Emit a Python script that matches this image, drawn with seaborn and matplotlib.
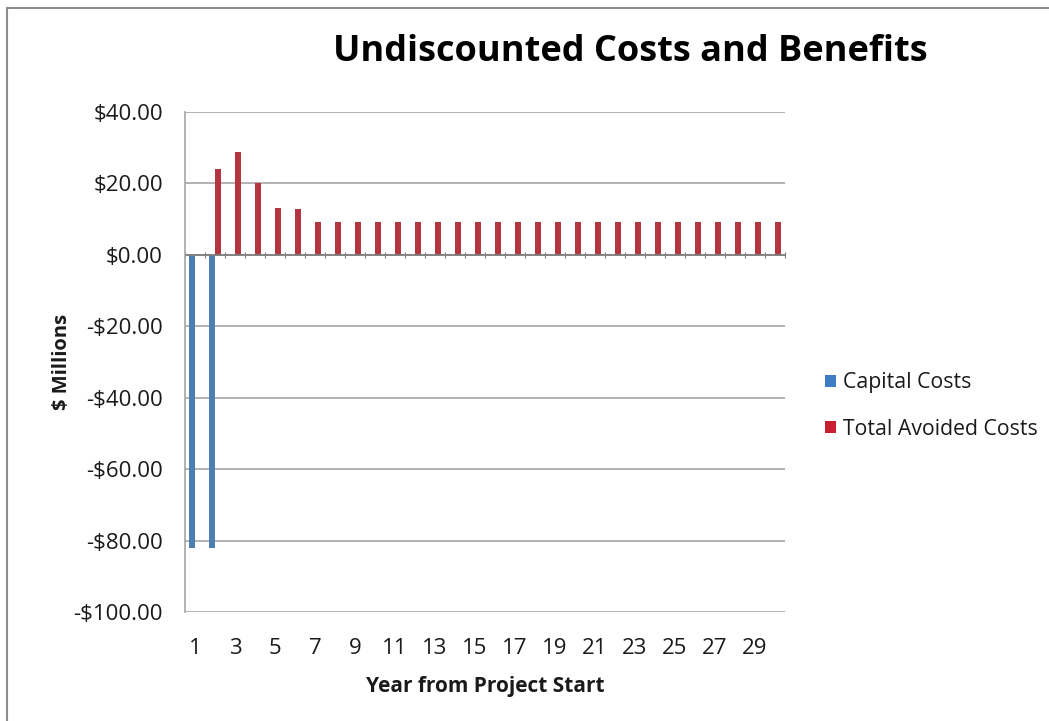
import matplotlib
matplotlib.use("Agg")
import matplotlib.pyplot as plt
import seaborn as sns
import pandas as pd
from matplotlib.patches import Patch
from matplotlib.lines import Line2D

years = list(range(1, 31))
capital_costs = [-82, -82] + [0] * 28
avoided_costs = [0, 24.1, 28.9, 20.2, 13.2, 12.9] + [9.2] * 24
series_names = ["Capital Costs", "Total Avoided Costs"]
colors = ["#3C7DC4", "#C8202F"]
yticks = [-100, -80, -60, -40, -20, 0, 20, 40]

df = pd.DataFrame({
    "Year": years * 2,
    "Value": capital_costs + avoided_costs,
    "Series": [series_names[0]] * 30 + [series_names[1]] * 30,
})

sns.set_style("white")
plt.rcParams["font.family"] = ["Open Sans", "DejaVu Sans"]
txt = "#1a1a1a"

fig = plt.figure(figsize=(10.49, 7.21), dpi=100)
ax = fig.add_axes([185 / 1049, 1 - 612 / 721, 600 / 1049, 500 / 721])

sns.barplot(data=df, x="Year", y="Value", hue="Series", palette=colors,
            width=0.6, gap=0.15, ax=ax, legend=False, linewidth=0)

ax.set_ylim(-100, 40)
ax.set_xlim(-0.5, 29.5)
ax.set_yticks(yticks)
ax.set_yticklabels([f"-${abs(v):.2f}" if v < 0 else f"${v:.2f}" for v in yticks],
                   fontsize=16, color=txt)
ax.set_xticks(range(0, 30, 2))
ax.set_xticklabels([str(y) for y in years[::2]], fontsize=16, color=txt)
ax.tick_params(axis="x", length=0, pad=19)
ax.tick_params(axis="y", length=4, width=1.2, color="#A6A6A6", pad=12)
ax.yaxis.grid(True, color="#A6A6A6", linewidth=1.2)
ax.set_axisbelow(True)
for s in ["top", "right", "bottom"]:
    ax.spines[s].set_visible(False)
ax.spines["left"].set_color("#A6A6A6")
ax.spines["left"].set_linewidth(1.2)

ax.axhline(0, color="#7F7F7F", linewidth=1.3, zorder=1)
sec = ax.secondary_xaxis(100 / 140)
sec.set_xticks([i - 0.5 for i in range(31)])
sec.set_xticklabels([])
sec.tick_params(direction="inout", length=5, color="#7F7F7F")
sec.spines["top"].set_visible(False)

ax.set_xlabel("Year from Project Start", fontsize=15, fontweight="bold",
              color=txt, labelpad=12)
ax.set_ylabel("$ Millions", fontsize=14.5, fontweight="bold", color=txt, labelpad=1)

fig.text(630 / 1049, 1 - 52 / 721, "Undiscounted Costs and Benefits",
         ha="center", va="center", fontsize=26, fontweight="bold", color="black")

handles = [Patch(facecolor=c, edgecolor="none") for c in colors]
leg = fig.legend(handles, series_names, loc="center left",
                 bbox_to_anchor=(806 / 1049, 1 - 406 / 721), frameon=False,
                 fontsize=15.3, handlelength=0.5, handleheight=0.5, handletextpad=0.35,
                 labelspacing=1.2)
for t in leg.get_texts():
    t.set_color(txt)

fig.lines.append(Line2D([7 / 1049, 7 / 1049], [0, 1 - 8 / 721],
                        transform=fig.transFigure, color="#8C8C8C", linewidth=1.5))
fig.lines.append(Line2D([7 / 1049, 1], [1 - 8 / 721, 1 - 8 / 721],
                        transform=fig.transFigure, color="#8C8C8C", linewidth=1.5))

fig.savefig("out.png", dpi=100)
